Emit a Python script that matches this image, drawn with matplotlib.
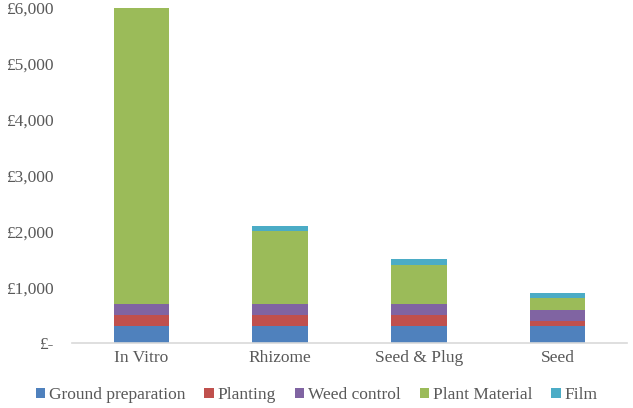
import matplotlib
matplotlib.use("Agg")
import matplotlib.pyplot as plt
import numpy as np

categories = ["In Vitro", "Rhizome", "Seed & Plug", "Seed"]
series_names = ["Ground preparation", "Planting", "Weed control", "Plant Material", "Film"]
ground_prep = [300, 300, 300, 300]
planting = [200, 200, 200, 100]
weed_control = [200, 200, 200, 200]
plant_material = [5300, 1300, 700, 200]
film = [15, 100, 100, 100]
yticks = [0, 1000, 2000, 3000, 4000, 5000, 6000]
ytick_labels = ["£-", "£1,000", "£2,000", "£3,000", "£4,000", "£5,000", "£6,000"]
colors = ["#4F81BD", "#C0504D", "#8064A2", "#9BBB59", "#4BACC6"]

plt.rcParams['font.family'] = ['Liberation Serif', 'DejaVu Serif']

fig = plt.figure(figsize=(6.33, 4.08), dpi=100)
ax = fig.add_axes([72/633, 65/408, (627-72)/633, (343-8)/408])

x = np.arange(len(categories))
bottom = np.zeros(len(categories))
for name, vals, c in zip(series_names, [ground_prep, planting, weed_control, plant_material, film], colors):
    ax.bar(x, vals, width=0.4, bottom=bottom, color=c, label=name)
    bottom += np.array(vals)

ax.set_xlim(-0.5, len(categories) - 0.5)
ax.set_ylim(0, 6000)
ax.set_yticks(yticks)
ax.set_yticklabels(ytick_labels, fontsize=12.5, color="#595959")
ax.set_xticks(x)
ax.set_xticklabels(categories, fontsize=12.5, color="#595959")
ax.tick_params(axis='both', length=0)
ax.tick_params(axis='y', pad=13.5)
ax.tick_params(axis='x', pad=5)
for s in ["top", "right", "left"]:
    ax.spines[s].set_visible(False)
ax.spines["bottom"].set_color("#D9D9D9")
ax.spines["bottom"].set_linewidth(1.2)

leg = fig.legend(loc="center", bbox_to_anchor=(0.5, 13/408), ncol=5, frameon=False,
                 fontsize=12.5, handlelength=0.55, handleheight=0.55, handletextpad=0.2,
                 columnspacing=1.1)
for t in leg.get_texts():
    t.set_color("#595959")

fig.savefig("out.png", dpi=100)
